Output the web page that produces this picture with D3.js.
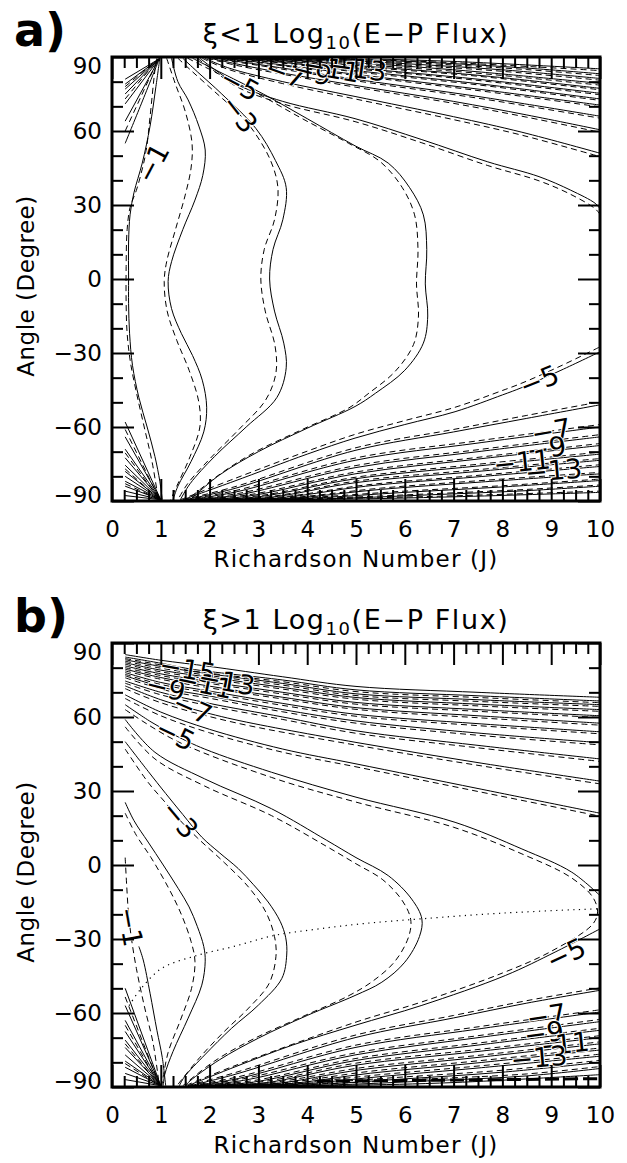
<!DOCTYPE html>
<html><head><meta charset="utf-8">
<script src="https://cdn.jsdelivr.net/npm/d3@7"></script>
<style>body{margin:0;background:#fff}svg{display:block}</style>
</head><body>
<svg id="c" width="627" height="1163"></svg>
<script>
const J_TICKS=[0,1,2,3,4,5,6,7,8,9,10];
const ANGLE_TICKS=[-90,-60,-30,0,30,60,90];

// ---------- Panel a (xi<1) solid contours ----------
const aSolid=[
 [[0.98,89.5],[0.9,78],[0.78,62],[0.62,47],[0.45,35],[0.37,26],[0.34,15],[0.34,0],[0.34,-10],[0.36,-22],[0.42,-35],[0.55,-48],[0.72,-60],[0.88,-72],[0.98,-82],[1.03,-89.5]],
 [[1.22,89.5],[1.35,80],[1.56,72.6],[1.78,62],[1.91,52.3],[1.86,42],[1.7,32],[1.45,20],[1.22,7],[1.15,-1],[1.22,-12],[1.42,-22],[1.65,-31],[1.85,-41],[1.94,-52],[1.88,-62],[1.62,-74],[1.35,-84],[1.25,-89.5]],
 [[1.45,89.5],[1.75,84],[2.25,75],[2.95,61],[3.35,48],[3.57,37],[3.5,24],[3.3,12],[3.23,0],[3.33,-13],[3.52,-26],[3.57,-36],[3.38,-48],[2.75,-60],[2.1,-72],[1.6,-83],[1.4,-89.5]],
 [[1.65,89.5],[2.3,83],[3.1,75],[4.0,65],[4.98,54],[5.66,47],[6.1,37],[6.38,26],[6.45,12],[6.42,-2],[6.47,-15],[6.38,-26],[6.0,-37],[5.4,-46.3],[4.98,-51.7],[4.0,-60.5],[3.0,-70],[2.2,-79.5],[1.6,-89.5]],
 [[1.8,89.5],[2.1,85],[2.6,78.5],[3.5,72],[4.98,65],[6.35,56.5],[7.7,47.5],[8.75,41.5],[9.4,36],[9.9,30.7],[10,28.5]],
 [[1.9,89.5],[2.4,85.5],[3.5,80],[4.98,74],[7.0,65.8],[8.4,59.5],[10,51]],
 [[2.0,89.5],[2.6,87],[3.5,83.5],[4.98,78.5],[7,72],[8.5,66.5],[10,60.5]],
 [[2.1,89.5],[3.0,87],[4.98,81],[7.5,74],[10,66]],
 [[2.2,89.5],[3.2,87.5],[4.98,83],[7.5,77],[10,70.5]],
 [[2.3,89.5],[3.4,88],[4.98,84.5],[7.5,79.2],[10,73]],
 [[2.4,89.5],[3.6,88.3],[4.98,85.6],[7.5,81],[10,75.3]],
 [[2.5,89.5],[3.8,88.6],[4.98,86.6],[7.5,82.6],[10,77.3]],
 [[2.6,89.5],[4.0,88.8],[5.5,87],[7.5,84],[10,79.3]],
 [[2.8,89.5],[4.3,89],[6,87.3],[8,84.8],[10,81.3]],
 [[3.0,89.5],[4.6,89.2],[6.5,87.8],[8.5,85.5],[10,83.2]],
 [[3.3,89.5],[5.0,89.3],[7,88.2],[10,85.2]],
 [[1.45,-89.5],[2.5,-82],[4.0,-71],[4.98,-64.5],[6.0,-59],[7.03,-53.8],[8.0,-47],[8.4,-44],[9.2,-37],[10,-29.5]],
 [[1.5,-89.5],[2.5,-85],[4.98,-69.5],[7,-62],[8.5,-56.5],[10,-51]],
 [[1.55,-89.5],[2.5,-86.5],[4.98,-73.5],[7.5,-66.5],[10,-60]],
 [[1.6,-89.5],[2.6,-87.5],[4.98,-76.5],[7.5,-70],[10,-64]],
 [[1.65,-89.5],[2.8,-88],[4.98,-79],[7.5,-73],[10,-67.5]],
 [[1.7,-89.5],[3.0,-88.3],[4.98,-81],[7.5,-75.8],[10,-71]],
 [[1.75,-89.5],[3.2,-88.6],[4.98,-82.6],[7.5,-78],[10,-73.5]],
 [[1.8,-89.5],[3.4,-88.8],[5.2,-84],[7.5,-80.2],[10,-76]],
 [[1.85,-89.5],[3.6,-89],[5.5,-85.3],[7.5,-82.4],[10,-79]],
 [[1.9,-89.5],[3.8,-89.1],[6,-86.5],[8,-84.3],[10,-81.7]],
 [[2.0,-89.5],[4.2,-89.2],[6.5,-87.5],[8.5,-85.8],[10,-84]],
 [[2.2,-89.5],[4.6,-89.3],[7,-88.3],[10,-86.5]],
 [[0.27,81],[0.97,89.3]],[[0.27,79],[0.97,89.3]],[[0.27,77],[0.97,89.3]],[[0.27,75],[0.97,89.3]],
 [[0.27,71],[0.97,89.3]],[[0.27,64],[0.97,89.3]],[[0.27,55],[0.6,71],[0.97,89.3]],
 [[0.27,-58],[1.0,-89.5]],[[0.27,-64],[1.0,-89.5]],[[0.27,-69],[1.0,-89.5]],[[0.27,-72.5],[1.0,-89.5]],
 [[0.27,-75.5],[1.0,-89.5]],[[0.27,-78],[1.0,-89.5]],[[0.27,-80],[1.0,-89.5]],[[0.27,-82],[1.0,-89.5]],
 [[0.27,-84],[1.0,-89.5]],[[0.27,-86],[1.0,-89.5]],[[0.27,-87.8],[1.0,-89.5]]
];

// ---------- Panel a dashed contours ----------
const aDashed=[
 [[0.92,89.5],[0.88,84.7],[0.78,65.8],[0.7,52],[0.6,43],[0.5,36],[0.37,29],[0.31,20],[0.29,5],[0.29,-10],[0.31,-22],[0.38,-34],[0.5,-46],[0.66,-60],[0.82,-74],[0.95,-89.5]],
 [[1.12,89.5],[1.3,79],[1.5,68],[1.64,55],[1.62,45],[1.5,34],[1.3,20],[1.12,7],[1.07,-1],[1.13,-13],[1.33,-25],[1.58,-37],[1.78,-50],[1.8,-60],[1.6,-72],[1.35,-83],[1.2,-89.5]],
 [[1.35,89.5],[1.65,84],[2.1,76],[2.6,67],[2.9,60],[3.25,48],[3.4,37],[3.33,24],[3.12,12],[3.05,0],[3.14,-13],[3.34,-27],[3.36,-38],[3.15,-49],[2.6,-61],[2.0,-73],[1.55,-83],[1.35,-89.5]],
 [[1.55,89.5],[2.2,83],[3.0,75],[3.9,65],[4.85,55],[5.5,47.5],[5.95,37],[6.2,26],[6.27,12],[6.24,-2],[6.28,-15],[6.18,-26.5],[5.8,-37.5],[5.25,-46.5],[4.85,-52.3],[3.9,-61],[2.9,-70.5],[2.15,-80],[1.55,-89.5]],
 [[1.75,89.5],[2.05,85],[2.6,77.5],[3.5,71],[4.98,63.8],[6.35,55.2],[7.7,46],[8.75,39.8],[9.4,34.3],[9.9,28.5],[10,26.2]],
 [[1.85,89.5],[2.35,85.2],[3.5,79.2],[4.98,73],[7,64.6],[8.4,58.3],[10,49.6]],
 [[1.95,89.5],[2.55,86.6],[3.5,83],[4.98,77.8],[7,71.2],[8.5,65.6],[10,59.5]],
 [[2.05,89.5],[3.0,86.6],[4.98,80.4],[7.5,73.3],[10,65.2]],
 [[2.15,89.5],[3.2,87.2],[4.98,82.5],[7.5,76.4],[10,69.8]],
 [[2.25,89.5],[3.4,87.7],[4.98,84],[7.5,78.7],[10,72.4]],
 [[2.35,89.5],[3.6,88],[4.98,85.2],[7.5,80.5],[10,74.7]],
 [[2.45,89.5],[3.8,88.4],[4.98,86.2],[7.5,82.2],[10,76.7]],
 [[2.55,89.5],[4.0,88.5],[5.5,86.4],[7.5,83.4],[10,78.6]],
 [[2.75,89.5],[4.3,88.7],[6,86.8],[8,84.2],[10,80.6]],
 [[2.95,89.5],[4.6,88.9],[6.5,87.3],[8.5,84.9],[10,82.5]],
 [[3.25,89.5],[5.0,89.0],[7,87.7],[10,84.5]],
 [[1.4,-89.5],[2.5,-81],[4.0,-69.8],[4.98,-63],[6.0,-57.4],[7.03,-52],[8.0,-45.2],[8.4,-42.2],[9.2,-35.2],[10,-27.5]],
 [[1.45,-89.5],[2.5,-84.3],[4.98,-68.5],[7,-61],[8.5,-55.3],[10,-49.8]],
 [[1.5,-89.5],[2.5,-85.9],[4.98,-72.6],[7.5,-65.6],[10,-59]],
 [[1.55,-89.5],[2.6,-86.9],[4.98,-75.7],[7.5,-69.2],[10,-63.1]],
 [[1.6,-89.5],[2.8,-87.5],[4.98,-78.3],[7.5,-72.3],[10,-66.7]],
 [[1.65,-89.5],[3.0,-87.9],[4.98,-80.4],[7.5,-75.1],[10,-70.2]],
 [[1.7,-89.5],[3.2,-88.3],[4.98,-82],[7.5,-77.3],[10,-72.8]],
 [[1.75,-89.5],[3.4,-88.5],[5.2,-83.5],[7.5,-79.6],[10,-75.3]],
 [[1.8,-89.5],[3.6,-88.7],[5.5,-84.8],[7.5,-81.8],[10,-78.4]],
 [[1.85,-89.5],[3.8,-88.8],[6,-86],[8,-83.8],[10,-81.1]],
 [[1.95,-89.5],[4.2,-88.9],[6.5,-87.1],[8.5,-85.3],[10,-83.5]],
 [[2.15,-89.5],[4.6,-89],[7,-87.9],[10,-86]],
 [[0.27,78],[0.95,89.3]],[[0.27,73],[0.95,89.3]],[[0.27,60],[0.95,89.3]],
 [[0.27,-61],[0.98,-89.5]],[[0.27,-70.5],[0.98,-89.5]],[[0.27,-77],[0.98,-89.5]],[[0.27,-83],[0.98,-89.5]]
];

const aLabels=[["−1",0.83,47],["−3",2.62,67],["−5",2.62,79],["−7",3.55,83.5],["−9",4.1,84],["−11",4.5,85.5],["−13",5.05,85.5],
 ["−5",8.75,-41],["−7",9.0,-61.5],["−9",8.9,-68.5],["−11",8.4,-74],["−13",9.05,-77.5]];
const aLabelRot=[-62,52,28,20,14,10,8,-22,-10,-8,-6,-5];

// ---------- Panel b (xi>1) ----------
const bSolid=[
 [[0.55,-33],[0.64,-38.5],[0.78,-52],[0.92,-67],[1.03,-78],[1.1,-89.5]],
 [[0.27,25.4],[0.45,18],[0.74,9.3],[1.05,0],[1.36,-9.6],[1.58,-17],[1.75,-25],[1.88,-33],[1.91,-39],[1.84,-48.7],[1.56,-62.1],[1.25,-75.6],[1.08,-85],[1.05,-89.5]],
 [[0.27,50],[0.74,38],[1.1,29],[1.45,20.5],[1.84,11.3],[2.2,5],[2.59,-1.5],[2.9,-8],[3.2,-15],[3.45,-23],[3.56,-29.5],[3.58,-36.5],[3.48,-46],[3.0,-56.8],[2.45,-66.2],[1.9,-77],[1.48,-86],[1.38,-89.5]],
 [[0.27,59],[0.88,45.7],[1.9,34.9],[3.27,22.8],[4.4,10],[5.0,3],[5.66,-4.3],[6.14,-13.8],[6.35,-21.9],[6.3,-29],[6.0,-39.4],[5.53,-47.5],[4.98,-52.9],[4.0,-61],[3.0,-70.2],[2.2,-79],[1.6,-87.5],[1.5,-89.5]],
 [[0.27,65],[0.8,58],[1.3,52.5],[1.9,47],[3.27,37.6],[5.0,27.5],[7.03,17.3],[8.4,6.5],[9.42,-2.9],[10,-12.4]],
 [[1.55,-89.5],[2.5,-82],[3.7,-73],[4.98,-65],[6.35,-56.9],[8.06,-44.8],[9.08,-35.3],[10,-25.9]],
 [[0.27,69],[1.0,62],[2,55],[3.5,47],[5,41],[7.5,31],[10,21]],
 [[0.27,72.6],[1.0,67],[1.6,63.5],[2.5,59],[5,49.7],[7.5,41.5],[10,34]],
 [[0.27,74.6],[1.0,70],[2,65.5],[3.5,60],[5,54.4],[7.5,48.5],[10,43]],
 [[0.27,76.7],[1.15,71.5],[2,68.5],[3.5,63],[5,58.4],[7.5,53.5],[10,49.6]],
 [[0.27,78],[1.0,74],[2,70.5],[3.5,65.5],[5,61.1],[7.5,57.3],[10,54]],
 [[0.27,79.4],[1.0,76],[2,72.5],[3.5,68],[5,63.8],[7.5,60.5],[10,57.5]],
 [[0.27,80.7],[1.0,77.5],[2,74.3],[3.5,70],[5,65.9],[7.5,63],[10,60.5]],
 [[0.27,82],[1.0,79],[2.4,75],[3.5,72],[5,67.9],[7.5,65.2],[10,63]],
 [[0.27,83.2],[1.0,80.5],[2,77.5],[3.5,73.6],[5,69.4],[7.5,67],[10,65]],
 [[0.27,84.3],[1.0,81.8],[1.6,79.5],[3.5,75],[5,71],[7.5,68.6],[10,66.5]],
 [[0.27,85.3],[1.0,83],[2,80.5],[3.5,76.3],[5,72.4],[7.5,70],[10,68]],
 [[1.6,-89.5],[2.5,-85],[4.98,-70],[7,-62],[8.5,-56],[10,-50.8]],
 [[1.65,-89.5],[2.6,-86.5],[4.98,-74],[7.5,-66.5],[10,-59.6]],
 [[1.7,-89.5],[2.7,-87.3],[4.98,-77],[7.5,-70],[10,-63.5]],
 [[1.75,-89.5],[2.9,-88],[4.98,-79.3],[7.5,-73],[10,-67]],
 [[1.8,-89.5],[3.1,-88.4],[4.98,-81.2],[7.5,-75.6],[10,-70]],
 [[1.85,-89.5],[3.3,-88.7],[5.1,-83],[7.5,-78],[10,-72.5]],
 [[1.9,-89.5],[3.5,-88.9],[5.3,-84.4],[7.5,-80.2],[10,-75]],
 [[1.95,-89.5],[3.7,-89],[5.6,-85.6],[7.5,-82.3],[10,-77.5]],
 [[2.0,-89.5],[4.0,-89.1],[6,-86.7],[8,-84],[10,-80]],
 [[2.1,-89.5],[4.4,-89.2],[6.5,-87.5],[8.5,-85.5],[10,-82.5]],
 [[2.3,-89.5],[4.8,-89.3],[7,-88.2],[10,-85]],
 [[0.27,-50],[1.0,-89.5]],[[0.27,-57],[1.0,-89.5]],[[0.27,-63],[1.0,-89.5]],[[0.27,-67.5],[1.0,-89.5]],
 [[0.27,-71],[1.0,-89.5]],[[0.27,-74],[1.0,-89.5]],[[0.27,-77],[1.0,-89.5]],[[0.27,-79.5],[1.0,-89.5]],
 [[0.27,-82],[1.0,-89.5]],[[0.27,-84.5],[1.0,-89.5]],[[0.27,-87],[1.0,-89.5]]
];

const bDashed=[
 [[0.27,3],[0.3,-8],[0.34,-20],[0.4,-30],[0.5,-42],[0.66,-57],[0.84,-72],[0.97,-89.5]],
 [[0.27,21],[0.5,12],[0.8,3],[1.15,-9],[1.42,-20],[1.62,-31],[1.7,-39],[1.63,-50],[1.4,-63],[1.15,-76],[1.02,-89.5]],
 [[0.27,47],[0.74,33.5],[1.09,25.4],[1.4,18],[1.75,11],[2.3,1],[2.8,-9],[3.15,-19],[3.33,-29],[3.36,-37],[3.22,-48],[2.8,-58],[2.3,-67.5],[1.8,-78],[1.33,-89.5]],
 [[0.27,56],[0.88,43],[1.9,32],[3.27,20],[4.4,7.5],[5.0,0.5],[5.55,-6],[5.95,-14.5],[6.12,-22],[6.08,-29],[5.8,-39],[5.35,-47],[4.85,-53],[3.9,-61.5],[2.9,-70.5],[2.1,-79.5],[1.45,-89.5]],
 [[0.27,63],[1.3,50.5],[3.27,35.5],[5,25.5],[7,15.3],[8.4,4.5],[9.4,-5],[9.85,-13],[9.95,-19],[9.85,-24],[9.0,-35],[8.0,-43.8],[6.35,-55.5],[4.98,-63.8],[2.5,-81.5],[1.5,-89.5]],
 [[0.27,67.5],[1.0,60.5],[2,53.6],[3.5,45.7],[5,39.8],[7.5,29.8],[10,19.8]],
 [[0.27,71.5],[1.0,65.8],[2.5,57.8],[5,48.6],[7.5,40.4],[10,32.9]],
 [[0.27,73.7],[1.0,69],[2,64.5],[3.5,59],[5,53.4],[7.5,47.5],[10,42]],
 [[0.27,75.9],[1.15,70.6],[2,67.6],[3.5,62.1],[5,57.5],[7.5,52.6],[10,48.7]],
 [[0.27,77.3],[1.0,73.2],[2,69.7],[3.5,64.7],[5,60.3],[7.5,56.5],[10,53.2]],
 [[0.27,78.7],[1.0,75.3],[2,71.8],[3.5,67.3],[5,63.1],[7.5,59.7],[10,56.7]],
 [[0.27,80],[1.0,76.8],[2,73.6],[3.5,69.3],[5,65.2],[7.5,62.3],[10,59.8]],
 [[0.27,81.4],[1.0,78.3],[2.4,74.3],[3.5,71.3],[5,67.2],[7.5,64.5],[10,62.3]],
 [[0.27,82.6],[1.0,79.8],[2,76.8],[3.5,72.9],[5,68.7],[7.5,66.3],[10,64.3]],
 [[0.27,83.7],[1.0,81.1],[1.6,78.8],[3.5,74.3],[5,70.3],[7.5,67.9],[10,65.8]],
 [[1.55,-89.5],[2.5,-84.3],[4.98,-69],[7,-61],[8.5,-55],[10,-49.8]],
 [[1.6,-89.5],[2.6,-85.8],[4.98,-73.1],[7.5,-65.6],[10,-58.7]],
 [[1.65,-89.5],[2.7,-86.6],[4.98,-76.2],[7.5,-69.2],[10,-62.6]],
 [[1.7,-89.5],[2.9,-87.4],[4.98,-78.5],[7.5,-72.2],[10,-66.2]],
 [[1.75,-89.5],[3.1,-87.8],[4.98,-80.4],[7.5,-74.8],[10,-69.2]],
 [[1.8,-89.5],[3.3,-88.1],[5.1,-82.2],[7.5,-77.2],[10,-71.7]],
 [[1.85,-89.5],[3.5,-88.3],[5.3,-83.6],[7.5,-79.4],[10,-74.2]],
 [[1.9,-89.5],[3.7,-88.4],[5.6,-84.8],[7.5,-81.5],[10,-76.7]],
 [[1.95,-89.5],[4.0,-88.5],[6,-85.9],[8,-83.2],[10,-79.2]],
 [[2.05,-89.5],[4.4,-88.6],[6.5,-86.7],[8.5,-84.7],[10,-81.7]],
 [[0.27,-53.5],[0.98,-89.5]],[[0.27,-65],[0.98,-89.5]],[[0.27,-72.5],[0.98,-89.5]],[[0.27,-80.5],[0.98,-89.5]]
];
const bDashedHeavy=[[[4.2,-87.6],[7,-87.2],[10,-86.6]]];
const bDotted=[[[0.35,-57],[0.6,-50],[1.02,-41.9],[1.77,-36.5],[2.5,-33],[3.34,-28.5],[4.2,-26],[5.18,-23.7],[6.35,-21.8],[8,-19.5],[10,-17.7]]];

const bLabels=[["−15",1.55,79.5],["−9",1.1,72],["−11",1.9,73.5],["−13",2.35,74.5],["−7",1.65,63.5],["−5",1.3,53],["−3",1.4,18.5],["−1",0.38,-25],
 ["−5",9.3,-36],["−7",8.9,-61],["−9",8.85,-68],["−11",9.2,-72.5],["−13",8.75,-78]];
const bLabelRot=[10,14,12,10,24,26,50,80,-25,-9,-8,-6,-5];

// ---------- drawing ----------
const svg=d3.select("#c");
svg.append("rect").attr("width",627).attr("height",1163).attr("fill","#fff");
const FONT="DejaVu Sans";
const L=112,R=600;

function drawPanel(top,tag,titleOp,solid,dashed,dotted,heavy,labels,rots){
  const bottom=top+444;
  const x=d3.scaleLinear().domain([0,10]).range([L,R]);
  const y=d3.scaleLinear().domain([-90,90]).range([bottom,top]);
  const g=svg.append("g");
  const cid="clip"+tag;
  g.append("clipPath").attr("id",cid).append("rect").attr("x",L).attr("y",top).attr("width",R-L).attr("height",bottom-top);
  const line=d3.line().x(d=>x(d[0])).y(d=>y(d[1])).curve(d3.curveCatmullRom.alpha(0.5));
  const cg=g.append("g").attr("clip-path",`url(#${cid})`).attr("fill","none").attr("stroke","#000");
  cg.selectAll("path.s").data(solid).join("path").attr("class","s").attr("d",line).attr("stroke-width",1);
  cg.selectAll("path.d").data(dashed).join("path").attr("class","d").attr("d",line).attr("stroke-width",1).attr("stroke-dasharray","6,4");
  cg.selectAll("path.o").data(dotted).join("path").attr("class","o").attr("d",line).attr("stroke-width",1.2).attr("stroke-dasharray","1.2,4.5");
  cg.selectAll("path.h").data(heavy).join("path").attr("class","h").attr("d",line).attr("stroke-width",3).attr("stroke-dasharray","14,5");

  g.selectAll("text.cl").data(labels).join("text").attr("class","cl")
    .attr("transform",(d,i)=>`translate(${x(d[1])},${y(d[2])}) rotate(${rots[i]})`)
    .attr("text-anchor","middle").attr("dy","0.36em")
    .attr("font-family",FONT).attr("font-size",27).attr("fill","#000")
    .attr("stroke","#fff").attr("stroke-width",2).attr("paint-order","stroke").text(d=>d[0]);

  const minorJ=d3.range(0,10.001,0.25).filter(v=>Math.abs(v-Math.round(v))>1e-6);
  const minorA=d3.range(-90,90.001,10).filter(v=>v%30!==0);
  const fmt=d=>d<0?"−"+Math.abs(d):String(d);
  const style=sel=>{sel.select(".domain").remove();sel.selectAll("line").attr("stroke","#000").attr("stroke-width",2);
    sel.selectAll("text").attr("font-family",FONT).attr("font-size",23).attr("fill","#000");};
  g.append("g").attr("transform",`translate(0,${bottom})`).call(d3.axisBottom(x).tickValues(J_TICKS).tickSize(-22).tickPadding(20).tickFormat(fmt)).call(style);
  g.append("g").attr("transform",`translate(0,${bottom})`).call(d3.axisBottom(x).tickValues(minorJ).tickSize(-11).tickFormat("")).call(style);
  g.append("g").attr("transform",`translate(0,${top})`).call(d3.axisTop(x).tickValues(J_TICKS).tickSize(-22).tickFormat("")).call(style);
  g.append("g").attr("transform",`translate(0,${top})`).call(d3.axisTop(x).tickValues(minorJ).tickSize(-11).tickFormat("")).call(style);
  const ly=g.append("g").attr("transform",`translate(${L},0)`).call(d3.axisLeft(y).tickValues(ANGLE_TICKS).tickSize(-22).tickPadding(10).tickFormat(fmt)).call(style);
  ly.selectAll("text").filter(d=>d===90).attr("y",9);
  ly.selectAll("text").filter(d=>d===-90).attr("y",-6);
  g.append("g").attr("transform",`translate(${L},0)`).call(d3.axisLeft(y).tickValues(minorA).tickSize(-11).tickFormat("")).call(style);
  g.append("g").attr("transform",`translate(${R},0)`).call(d3.axisRight(y).tickValues(ANGLE_TICKS).tickSize(-22).tickFormat("")).call(style);
  g.append("g").attr("transform",`translate(${R},0)`).call(d3.axisRight(y).tickValues(minorA).tickSize(-11).tickFormat("")).call(style);
  g.append("rect").attr("x",L).attr("y",top).attr("width",R-L).attr("height",bottom-top).attr("fill","none").attr("stroke","#000").attr("stroke-width",3);

  const t=g.append("text").attr("x",(L+R)/2).attr("y",top-14).attr("text-anchor","middle")
    .attr("font-family",FONT).attr("font-size",27).attr("letter-spacing",1.6).attr("fill","#000");
  t.append("tspan").text("ξ"+titleOp+"1 Log");
  t.append("tspan").attr("font-size",18).attr("dy",6).text("10");
  t.append("tspan").attr("dy",-6).text("(E−P Flux)");
  g.append("text").attr("x",14).attr("y",top-11).attr("font-family",FONT).attr("font-weight","bold")
    .attr("font-size",46).attr("fill","#000").text(tag+")");
  g.append("text").attr("x",(L+R)/2).attr("y",bottom+66).attr("text-anchor","middle")
    .attr("font-family",FONT).attr("font-size",23).attr("letter-spacing",1.2).attr("fill","#000").text("Richardson Number (J)");
  g.append("text").attr("transform",`translate(34,${top+229}) rotate(-90)`).attr("text-anchor","middle")
    .attr("font-family",FONT).attr("font-size",23).attr("letter-spacing",0.5).attr("fill","#000").text("Angle (Degree)");
}

drawPanel(57,"a","<",aSolid,aDashed,[],[],aLabels,aLabelRot);
drawPanel(643,"b",">",bSolid,bDashed,bDotted,bDashedHeavy,bLabels,bLabelRot);
</script>
</body></html>
